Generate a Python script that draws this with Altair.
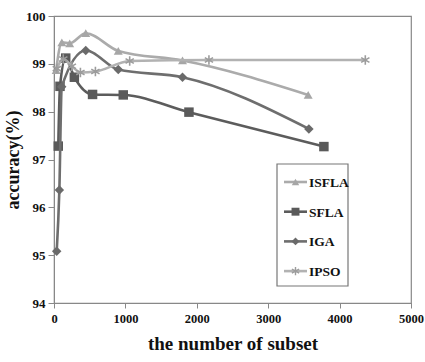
import altair as alt
import pandas as pd

series_names = ["ISFLA", "SFLA", "IGA", "IPSO"]

isfla_x = [30, 110, 220, 445, 900, 1800, 3560]
isfla_y = [98.87, 99.45, 99.43, 99.64, 99.27, 99.07, 98.35]

sfla_x = [60, 84, 164, 285, 540, 970, 1890, 3780]
sfla_y = [97.28, 98.53, 99.12, 98.72, 98.36, 98.35, 97.99, 97.27]

iga_x = [38, 75, 108, 445, 900, 1800, 3570]
iga_y = [95.08, 96.36, 98.52, 99.28, 98.88, 98.72, 97.64]

ipso_x = [40, 130, 250, 370, 580, 1060, 2170, 4360]
ipso_y = [98.90, 99.10, 98.95, 98.82, 98.84, 99.06, 99.08, 99.08]

x_ticks = [0, 500, 1000, 1500, 2000, 2500, 3000, 3500, 4000, 4500, 5000]
y_ticks = [94, 95, 96, 97, 98, 99, 100]

line_colors = {"ISFLA": "#ababab", "SFLA": "#5c5c5c", "IGA": "#6e6e6e", "IPSO": "#b2b2b2"}
marker_colors = {"ISFLA": "#a6a6a6", "SFLA": "#5a5a5a", "IGA": "#6a6a6a", "IPSO": "#9c9c9c"}
asterisk = "M0,-1L0,1M-0.87,-0.5L0.87,0.5M-0.87,0.5L0.87,-0.5"
shapes = {"ISFLA": "triangle-up", "SFLA": "square", "IGA": "diamond", "IPSO": asterisk}
sizes = {"ISFLA": 80, "SFLA": 90, "IGA": 90, "IPSO": 90}

FONT = "Liberation Serif"

rows = []
for name, xs, ys in [("ISFLA", isfla_x, isfla_y), ("SFLA", sfla_x, sfla_y),
                     ("IGA", iga_x, iga_y), ("IPSO", ipso_x, ipso_y)]:
    for i, (xv, yv) in enumerate(zip(xs, ys)):
        rows.append({"series": name, "order": i, "x": xv, "y": yv})
df = pd.DataFrame(rows)

xscale = alt.Scale(domain=[0, 5000], nice=False)
yscale = alt.Scale(domain=[94, 100], nice=False, zero=False)

xaxis = alt.Axis(values=x_ticks, format="d", title="the number of subset", grid=False,
                 labelFont=FONT, labelFontWeight="bold", labelFontSize=12.5, labelColor="#111",
                 titleFont=FONT, titleFontWeight="bold", titleFontSize=19, titleColor="#111",
                 titlePadding=10, domainColor="#888", tickColor="#888", tickSize=5,
                 labelPadding=4, labelFlush=False)
yaxis = alt.Axis(values=y_ticks, format="d", title="accuracy(%)", grid=False,
                 labelFont=FONT, labelFontWeight="bold", labelFontSize=13, labelColor="#111",
                 titleFont=FONT, titleFontWeight="bold", titleFontSize=18, titleColor="#111",
                 titlePadding=3, domainColor="#888", tickColor="#888", tickSize=6,
                 labelPadding=3)

layers = []
for name in series_names:
    sub = df[df.series == name]
    base = alt.Chart(sub)
    line = base.mark_line(interpolate="monotone", strokeWidth=2.6,
                          color=line_colors[name]).encode(
        x=alt.X("x:Q", scale=xscale, axis=xaxis),
        y=alt.Y("y:Q", scale=yscale, axis=yaxis),
        order="order:Q")
    if name == "IPSO":
        pt = base.mark_point(shape=shapes[name], size=sizes[name], filled=False,
                             strokeWidth=1.6, color=marker_colors[name], opacity=1)
    else:
        pt = base.mark_point(shape=shapes[name], size=sizes[name], filled=True,
                             color=marker_colors[name], opacity=1)
    pt = pt.encode(x=alt.X("x:Q", scale=xscale), y=alt.Y("y:Q", scale=yscale))
    layers += [line, pt]

# legend (manual, Excel-style)
leg_box = alt.Chart(pd.DataFrame({"a": [0]})).mark_rect(
    fill="white", stroke="#777", strokeWidth=1.2).encode(
    x=alt.value(223), x2=alt.value(294), y=alt.value(148), y2=alt.value(270))
layers.append(leg_box)

for i, name in enumerate(series_names):
    yy = 166 + i * 29.7
    one = alt.Chart(pd.DataFrame({"series": [name]}))
    layers.append(one.mark_rule(color=line_colors[name], strokeWidth=2.6).encode(
        x=alt.value(230), x2=alt.value(253), y=alt.value(yy)))
    if name == "IPSO":
        mk = one.mark_point(shape=shapes[name], size=70, filled=False, strokeWidth=1.4,
                            color=marker_colors[name], opacity=1)
    else:
        mk = one.mark_point(shape=shapes[name], size=sizes[name] * 0.7, filled=True,
                            color=marker_colors[name], opacity=1)
    layers.append(mk.encode(x=alt.value(241.5), y=alt.value(yy)))
    layers.append(one.mark_text(align="left", baseline="middle", font=FONT,
                                fontWeight="bold", fontSize=13.5, color="#111").encode(
        x=alt.value(255), y=alt.value(yy + 1), text="series:N"))

chart = alt.layer(*layers).properties(
    width=357, height=287,
    padding={"left": 54, "top": 16, "right": 14, "bottom": 59},
    autosize=alt.AutoSizeParams(type="none"),
    background="white",
).configure_view(stroke="#888", strokeWidth=1.2)

chart.save("out.html", embed_options={"renderer": "svg", "actions": False})
